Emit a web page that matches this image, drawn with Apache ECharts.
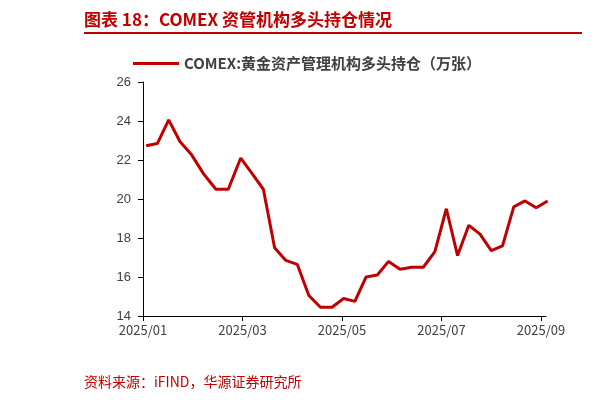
<!DOCTYPE html>
<html>
<head>
<meta charset="utf-8">
<script src="https://cdn.jsdelivr.net/npm/echarts@6/dist/echarts.min.js"></script>
<style>
body{margin:0;background:#fff;}
#title{position:absolute;left:84px;top:6px;width:498px;height:26px;border-bottom:2px solid #c00000;color:#c00000;font:bold 17px "Noto Sans CJK SC";line-height:26px;}
#src{position:absolute;left:84px;top:371px;color:#c00000;font:14px "Noto Sans CJK SC";}
#container{position:absolute;left:0;top:0;width:614px;height:400px;}
</style>
</head>
<body>
<div id="container"></div>
<div id="title">图表 18：COMEX 资管机构多头持仓情况</div>
<div id="src">资料来源：iFIND，华源证券研究所</div>
<script>
// weekly data, first week ends 2025-01-03
var startDate = '2025-01-03';
var holdings = [22.73, 22.85, 24.06, 22.95, 22.3, 21.3, 20.5, 20.5, 22.1, 21.3, 20.5, 17.5,
    16.85, 16.65, 15.05, 14.45, 14.45, 14.9, 14.75, 16.0, 16.1, 16.8, 16.4, 16.5,
    16.5, 17.3, 19.5, 17.1, 18.65, 18.2, 17.35, 17.6, 19.6, 19.9, 19.55, 19.9];
var monthLabels = ['2025/01', '2025/02', '2025/03', '2025/04', '2025/05', '2025/06', '2025/07', '2025/08', '2025/09'];

// dates -> months since 2025/01 (fractional)
function monthPos(d) {
    var dim = new Date(d.getFullYear(), d.getMonth() + 1, 0).getDate();
    return d.getMonth() + (d.getDate() - 1) / dim;
}
var data = [];
var d0 = new Date(startDate + 'T00:00:00');
for (var i = 0; i < holdings.length; i++) {
    var d = new Date(d0.getTime() + i * 7 * 86400000);
    data.push([monthPos(d), holdings[i]]);
}

var myChart = echarts.init(document.getElementById('container'));
var option = {
    animation: false,
    legend: {
        top: 51, left: 128,
        itemWidth: 46, itemHeight: 3, itemGap: 8,
        textStyle: {fontSize: 15, fontWeight: 'bold', color: '#404040', fontFamily: 'Noto Sans CJK SC'},
        data: [{name: 'COMEX:黄金资产管理机构多头持仓（万张）', icon: 'rect'}]
    },
    grid: {left: 143, right: 68, top: 82, bottom: 84},
    xAxis: {
        type: 'value', min: 0, max: 8.1, interval: 2,
        axisLine: {lineStyle: {color: '#000'}},
        axisTick: {show: true, length: 5, lineStyle: {color: '#000'}},
        splitLine: {show: false},
        axisLabel: {
            color: '#404040', fontSize: 13, fontFamily: 'Noto Sans CJK SC',
            showMaxLabel: false,
            formatter: function (v) { return monthLabels[Math.round(v)] || ''; }
        }
    },
    yAxis: {
        type: 'value', min: 14, max: 26, interval: 2,
        axisLine: {show: true, lineStyle: {color: '#000'}},
        axisTick: {show: true, length: 5, lineStyle: {color: '#000'}},
        splitLine: {show: false},
        axisLabel: {color: '#404040', fontSize: 13, margin: 12}
    },
    series: [{
        name: 'COMEX:黄金资产管理机构多头持仓（万张）',
        type: 'line', data: data, showSymbol: false,
        lineStyle: {color: '#c00000', width: 3},
        itemStyle: {color: '#c00000'}
    }]
};
myChart.setOption(option);
</script>
</body>
</html>
